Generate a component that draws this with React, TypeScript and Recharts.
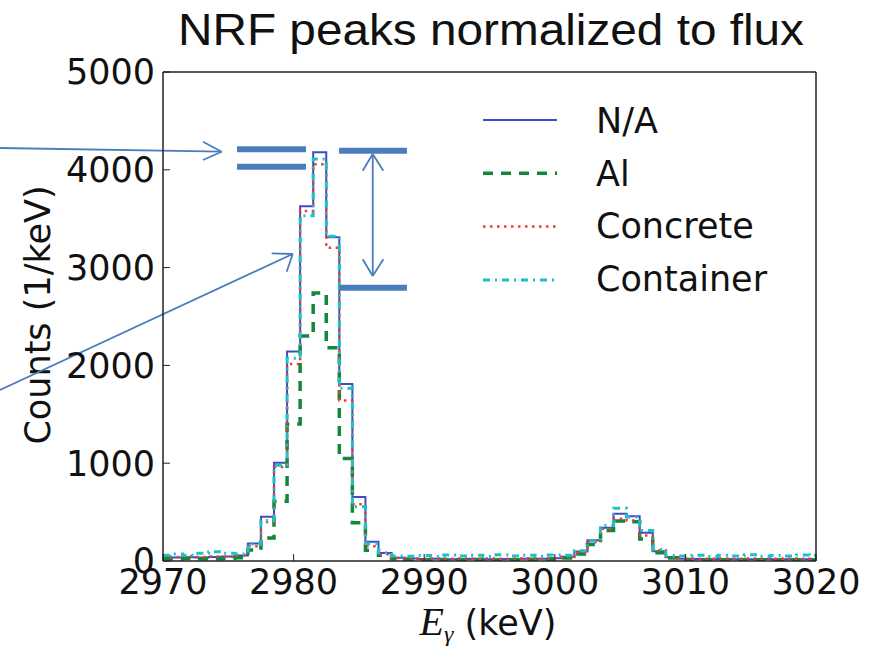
import React from 'react';
import { LineChart, Line, XAxis, YAxis, ReferenceLine, Legend, Customized } from 'recharts';

// Photon energy bin centres (keV)
const energies = [
  2970, 2971, 2972, 2973, 2974, 2975, 2976, 2977, 2978, 2979,
  2980, 2981, 2982, 2983, 2984, 2985, 2986, 2987, 2988, 2989,
  2990, 2991, 2992, 2993, 2994, 2995, 2996, 2997, 2998, 2999,
  3000, 3001, 3002, 3003, 3004, 3005, 3006, 3007, 3008, 3009,
  3010, 3011, 3012, 3013, 3014, 3015, 3016, 3017, 3018, 3019, 3020,
];

const naCounts = [
  40, 36, 38, 35, 42, 45, 55, 180, 453, 1005,
  2143, 3627, 4180, 3311, 1810, 655, 197, 82, 32, 25,
  20, 22, 18, 20, 22, 19, 21, 20, 24, 22,
  28, 44, 98, 212, 340, 483, 458, 288, 100, 42,
  22, 20, 18, 20, 19, 17, 20, 18, 19, 17, 18,
];

const alCounts = [
  22, 20, 25, 22, 24, 26, 32, 113, 235, 610,
  1400, 2300, 2740, 2180, 1048, 390, 110, 58, 22, 15,
  12, 14, 12, 13, 11, 14, 12, 13, 15, 14,
  18, 30, 72, 168, 313, 410, 402, 225, 85, 30,
  14, 12, 11, 13, 12, 10, 12, 11, 12, 10, 10,
];

const concreteCounts = [
  45, 42, 48, 40, 46, 44, 58, 150, 400, 962,
  2015, 3580, 4056, 3202, 1640, 580, 150, 70, 30, 25,
  24, 26, 22, 25, 23, 26, 24, 25, 27, 24,
  30, 40, 88, 193, 330, 433, 415, 262, 108, 40,
  25, 24, 22, 25, 23, 26, 22, 24, 25, 23, 24,
];

const containerCounts = [
  60, 72, 58, 80, 95, 78, 72, 175, 415, 980,
  2074, 3530, 4110, 3320, 1766, 555, 180, 85, 50, 48,
  55, 45, 62, 50, 58, 47, 65, 52, 60, 48,
  62, 58, 105, 205, 364, 540, 450, 313, 120, 55,
  50, 58, 46, 60, 52, 63, 48, 57, 50, 62, 55,
];

const xTicks = [2970, 2980, 2990, 3000, 3010, 3020];
const yTicks = [0, 1000, 2000, 3000, 4000, 5000];

// Overlay annotations (data units: keV, counts)
const thickBars = [
  [{ x: 2975.67, y: 4210 }, { x: 2980.95, y: 4210 }],
  [{ x: 2975.67, y: 4032 }, { x: 2980.95, y: 4032 }],
  [{ x: 2983.48, y: 4195 }, { x: 2988.68, y: 4195 }],
  [{ x: 2983.48, y: 2794 }, { x: 2988.68, y: 2794 }],
];

const thinLines = [
  // arrow into the double bars
  [{ x: 2957.52, y: 4223 }, { x: 2974.49, y: 4185 }],
  [{ x: 2973.06, y: 4287 }, { x: 2974.49, y: 4185 }],
  [{ x: 2973.06, y: 4100 }, { x: 2974.49, y: 4185 }],
  // double-headed vertical arrow
  [{ x: 2986.06, y: 4162 }, { x: 2986.06, y: 2914 }],
  [{ x: 2985.29, y: 3991 }, { x: 2986.06, y: 4162 }],
  [{ x: 2986.87, y: 3991 }, { x: 2986.06, y: 4162 }],
  [{ x: 2985.29, y: 3085 }, { x: 2986.06, y: 2914 }],
  [{ x: 2986.87, y: 3085 }, { x: 2986.06, y: 2914 }],
  // arrow into the peak flank
  [{ x: 2957.52, y: 1748 }, { x: 2979.93, y: 3139 }],
  [{ x: 2978.32, y: 3146 }, { x: 2979.93, y: 3139 }],
  [{ x: 2979.47, y: 2958 }, { x: 2979.93, y: 3139 }],
];

const series = [
  { key: 'na', name: 'N/A', color: '#3d4ec4', width: 2, dash: undefined as string | undefined },
  { key: 'al', name: 'Al', color: '#11873a', width: 3.5, dash: '10 8' },
  { key: 'concrete', name: 'Concrete', color: '#f03a3a', width: 2.5, dash: '2.5 4.5' },
  { key: 'container', name: 'Container', color: '#1fc0c8', width: 3, dash: '7 5 2 5' },
];

const data = energies.map((e, i) => ({
  e,
  na: naCounts[i],
  al: alCounts[i],
  concrete: concreteCounts[i],
  container: containerCounts[i],
}));

const FONT = 'DejaVu Sans, Verdana, sans-serif';
const ANNOT = '#4a7ebb';

const LegendBox = () => (
  <svg width={330} height={210} style={{ display: 'block' }}>
    {series.map((s, i) => (
      <g key={s.key}>
        <line
          x1={13}
          x2={87}
          y1={25 + i * 53.3}
          y2={25 + i * 53.3}
          stroke={s.color}
          strokeWidth={s.width}
          strokeDasharray={s.dash}
        />
        <text x={126} y={38 + i * 52.7} fontFamily={FONT} fontSize={35} fill="#111">
          {s.name}
        </text>
      </g>
    ))}
  </svg>
);

const ChartTexts = () => (
  <g>
    <text
      x={491}
      y={45}
      textAnchor="middle"
      fontFamily="Liberation Sans, Arial, sans-serif"
      fontSize={44}
      textLength={626}
      lengthAdjust="spacingAndGlyphs"
      fill="#111"
    >
      NRF peaks normalized to flux
    </text>
    <text
      transform="translate(50,315) rotate(-90)"
      textAnchor="middle"
      fontFamily={FONT}
      fontSize={35}
      fill="#111"
    >
      Counts (1/keV)
    </text>
    <text x={488} y={635} textAnchor="middle" fill="#111">
      <tspan fontFamily="Liberation Serif, DejaVu Serif, serif" fontStyle="italic" fontSize={40}>
        E
      </tspan>
      <tspan fontFamily="Liberation Serif, DejaVu Serif, serif" fontStyle="italic" fontSize={24} dy={7}>
        γ
      </tspan>
      <tspan fontFamily={FONT} fontSize={35} dy={-7}>
        {' (keV)'}
      </tspan>
    </text>
  </g>
);

export default function App() {
  return (
    <div style={{ position: 'absolute', left: 0, top: 0, width: 876, height: 646, background: '#fff' }}>
      <LineChart
        width={876}
        height={646}
        data={data}
        margin={{ top: 71, right: 0, bottom: 0, left: 0 }}
      >
        <XAxis
          dataKey="e"
          type="number"
          domain={[2970, 3020]}
          ticks={xTicks}
          interval={0}
          allowDataOverflow
          height={85}
          tickSize={-7}
          tickMargin={15}
          axisLine={{ stroke: '#222', strokeWidth: 1.5 }}
          tickLine={{ stroke: '#222', strokeWidth: 1 }}
          tick={{ fontFamily: FONT, fontSize: 35, fill: '#111' }}
        />
        <XAxis
          xAxisId="top"
          orientation="top"
          dataKey="e"
          type="number"
          domain={[2970, 3020]}
          ticks={xTicks}
          interval={0}
          allowDataOverflow
          height={1}
          tickSize={-7}
          tick={false}
          axisLine={{ stroke: '#222', strokeWidth: 1.5 }}
          tickLine={{ stroke: '#222', strokeWidth: 1 }}
        />
        <YAxis
          type="number"
          domain={[0, 5000]}
          ticks={yTicks}
          interval={0}
          allowDataOverflow
          width={163}
          tickSize={-7}
          tickMargin={15}
          axisLine={{ stroke: '#222', strokeWidth: 1.5 }}
          tickLine={{ stroke: '#222', strokeWidth: 1 }}
          tick={{ fontFamily: FONT, fontSize: 35, fill: '#111' }}
        />
        <YAxis
          yAxisId="right"
          orientation="right"
          type="number"
          domain={[0, 5000]}
          ticks={yTicks}
          interval={0}
          allowDataOverflow
          width={60}
          tickSize={-7}
          tick={false}
          axisLine={{ stroke: '#222', strokeWidth: 1.5 }}
          tickLine={{ stroke: '#222', strokeWidth: 1 }}
        />
        {series.map((s) => (
          <Line
            key={s.key}
            dataKey={s.key}
            name={s.name}
            type="step"
            stroke={s.color}
            strokeWidth={s.width}
            strokeDasharray={s.dash}
            dot={false}
            activeDot={false}
            isAnimationActive={false}
          />
        ))}
        {thinLines.map((seg, i) => (
          <ReferenceLine
            key={'t' + i}
            segment={seg}
            stroke={ANNOT}
            strokeWidth={1.8}
            ifOverflow="visible"
          />
        ))}
        {thickBars.map((seg, i) => (
          <ReferenceLine
            key={'b' + i}
            segment={seg}
            stroke={ANNOT}
            strokeWidth={6}
            ifOverflow="visible"
          />
        ))}
        <Legend
          layout="vertical"
          align="center"
          verticalAlign="middle"
          wrapperStyle={{ position: 'absolute', left: 470, top: 95, width: 330, height: 210 }}
          content={() => <LegendBox />}
        />
        <Customized component={<ChartTexts />} />
      </LineChart>
    </div>
  );
}
